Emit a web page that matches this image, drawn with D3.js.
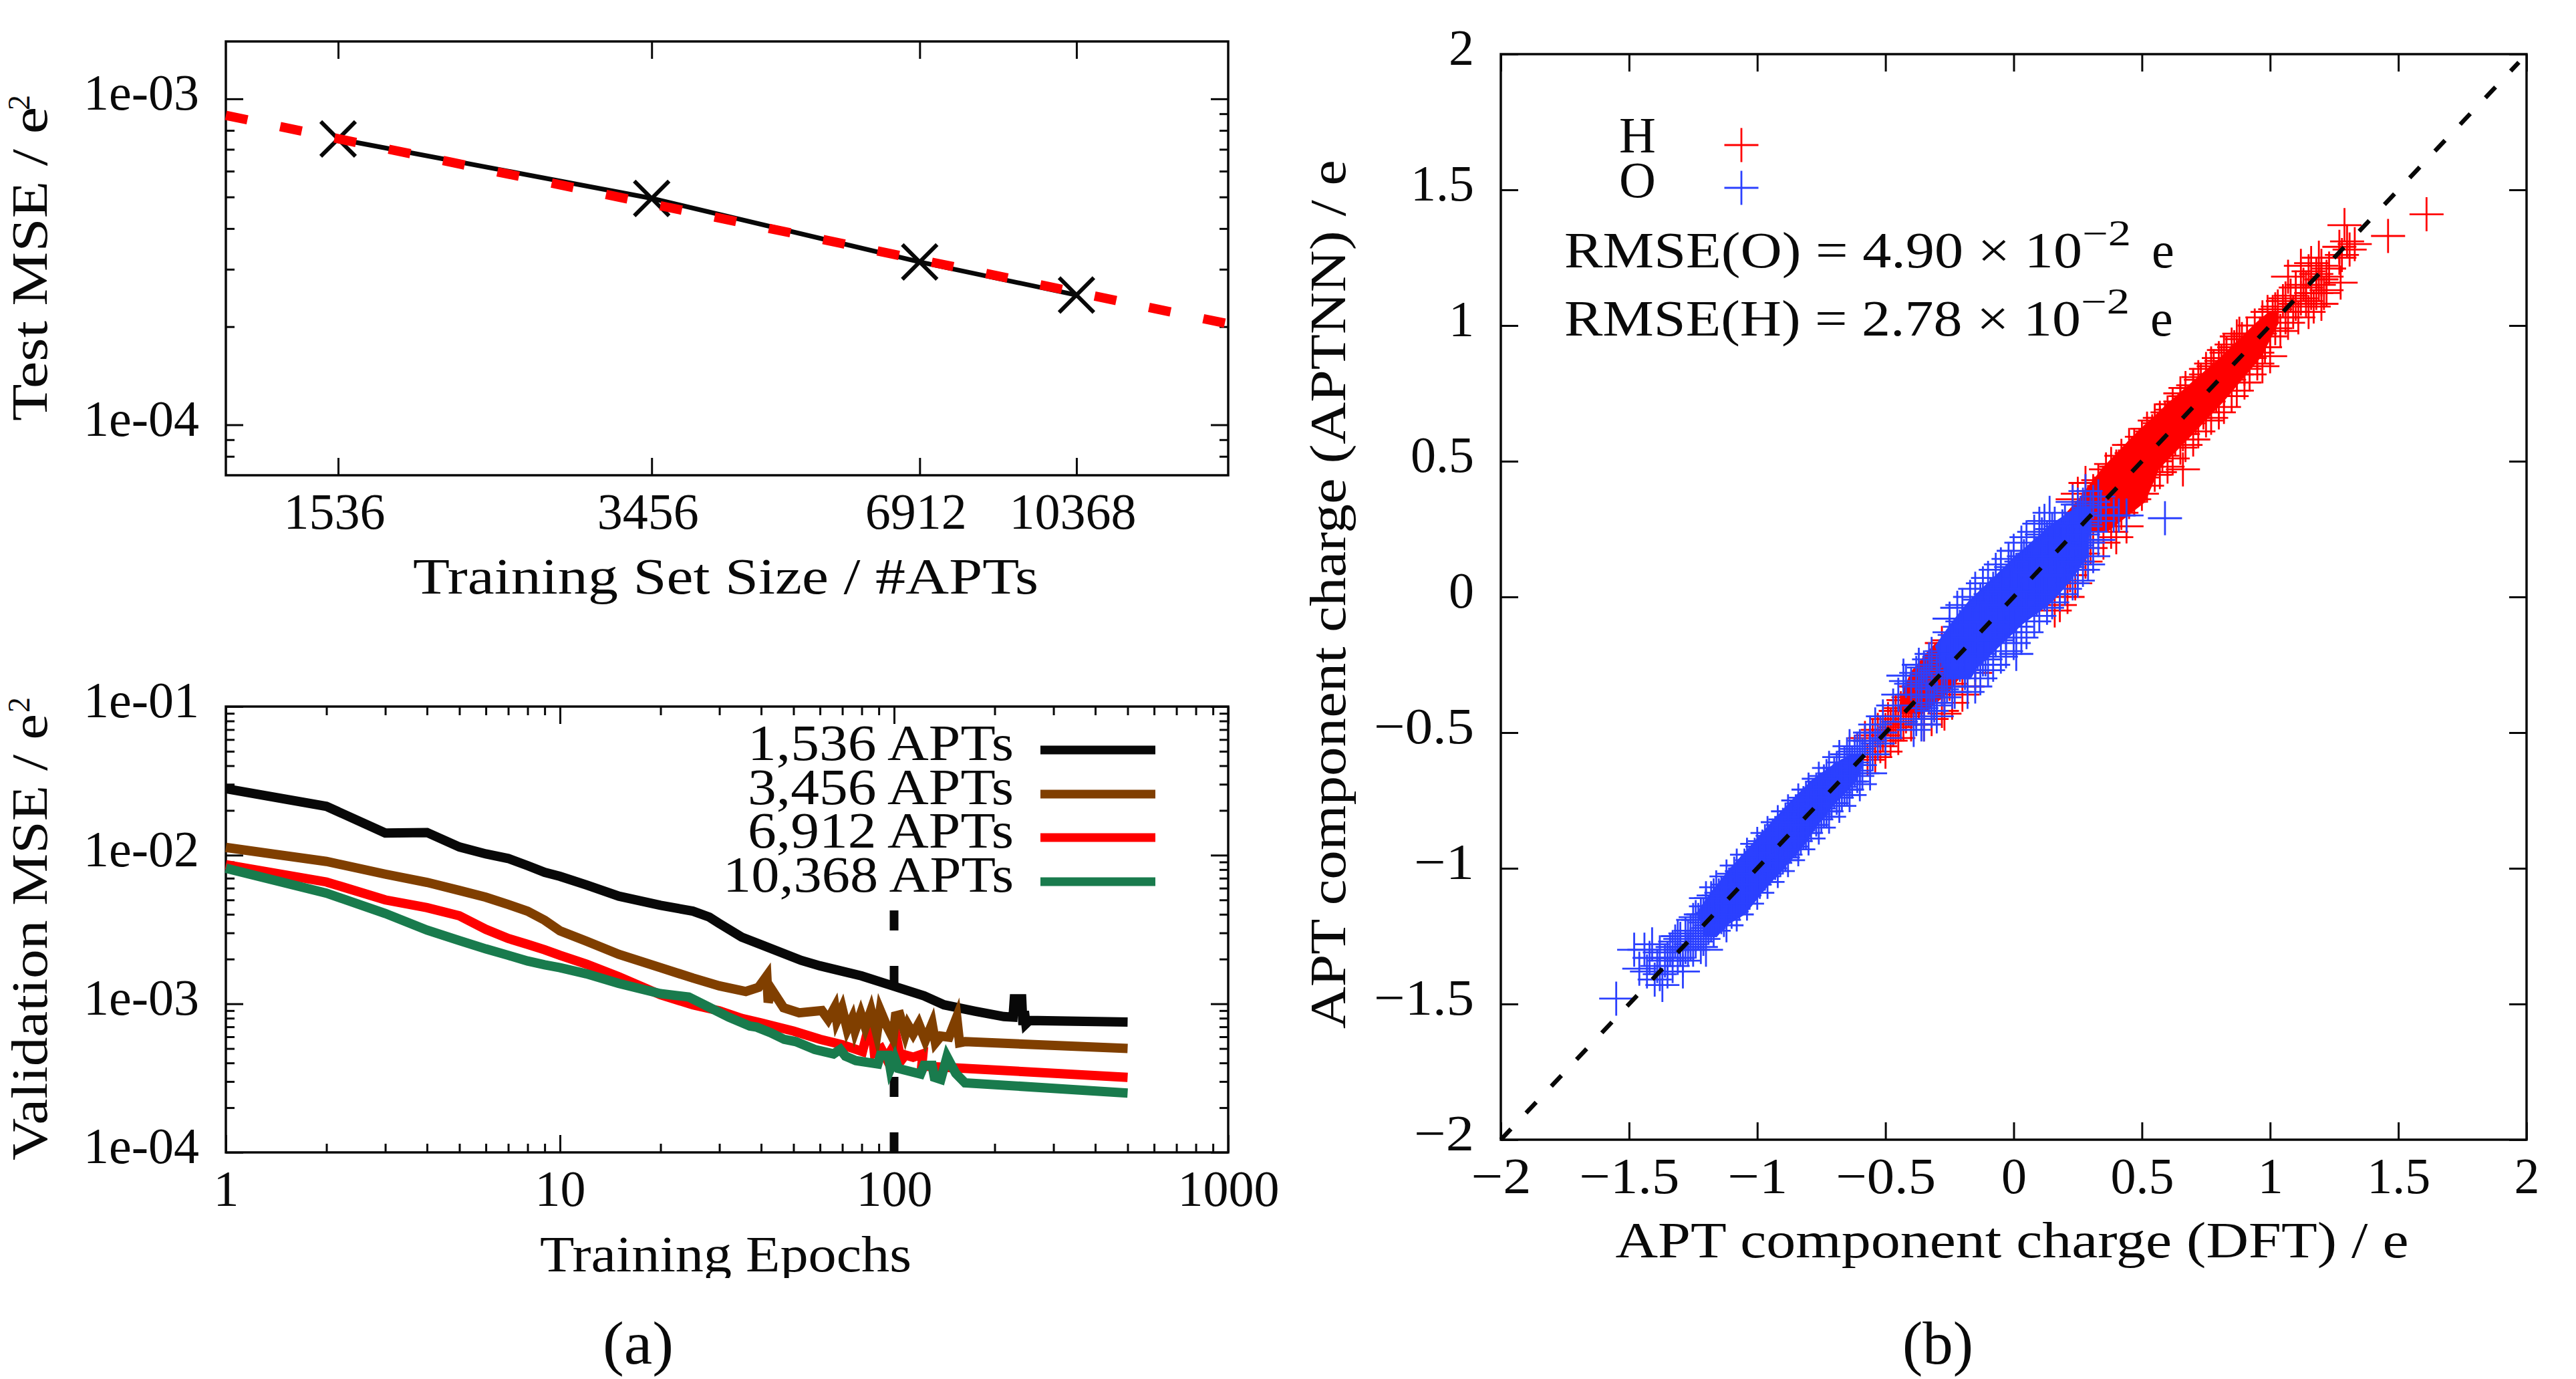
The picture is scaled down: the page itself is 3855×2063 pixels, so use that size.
<!DOCTYPE html>
<html><head><meta charset="utf-8">
<script src="https://cdn.jsdelivr.net/npm/d3@7/dist/d3.min.js"></script>
<style>html,body{margin:0;padding:0;background:#fff}svg{display:block}text{font-family:"Liberation Serif",serif;fill:#0a0a0a}</style>
</head><body><svg id="c" width="3855" height="2063"></svg>
<script>
// ---------- panel (a) top ----------
const sizeTicks=[1536,3456,6912,10368];
const testMse=[7.53e-4,4.95e-4,3.16e-4,2.5e-4];
const fitX=[1149,15350];
const fitY=[8.9e-4,2.04e-4];
const mseTop=[1e-3,1e-4];
const mseTopMinor=[8e-5,9e-5,2e-4,3e-4,4e-4,5e-4,6e-4,7e-4,8e-4,9e-4];
// ---------- panel (a) bottom ----------
const blackE=[1,2,3,4,5,6,7,8,9,10,12,15,20,25,28,30,35,40,52.7,60,80,97,123,141,175,213,227,229,241,243,245.5,248,254,500];
const blackV=[2.8e-2,2.13e-2,1.41e-2,1.42e-2,1.135e-2,1.02e-2,9.5e-3,8.5e-3,7.66e-3,7.2e-3,6.3e-3,5.3e-3,4.6e-3,4.2e-3,3.83e-3,3.47e-3,2.81e-3,2.5e-3,1.96e-3,1.8e-3,1.54e-3,1.34e-3,1.13e-3,9.84e-4,8.9e-4,8.2e-4,8.13e-4,1.08e-3,1.08e-3,7.2e-4,8.9e-4,7.33e-4,7.72e-4,7.53e-4];
const brownE=[1,2,3,4,5,6,7,8,9,10,12,15,20,25,30,36,39.3,41.6,42,43,46.7,52,60.8,63.5,66.5,67.4,69.9,72.4,75,76.4,79.5,82,85.3,88.8,90.9,94.8,99.3,101,104,108,110,114,118.5,124,130,133,138,146,154,157,163,500];
const brownV=[1.127e-2,9.07e-3,7.45e-3,6.56e-3,5.79e-3,5.21e-3,4.66e-3,4.2e-3,3.65e-3,3.1e-3,2.64e-3,2.15e-3,1.75e-3,1.49e-3,1.32e-3,1.21e-3,1.29e-3,1.54e-3,1.02e-3,1.25e-3,9.4e-4,8.7e-4,9e-4,7.85e-4,9.5e-4,7.72e-4,9.33e-4,6.73e-4,8e-4,6.6e-4,8.56e-4,6.96e-4,9.02e-4,6.27e-4,9.02e-4,7.2e-4,5.86e-4,8.28e-4,8.42e-4,6.27e-4,7.2e-4,6.27e-4,7.33e-4,5.66e-4,7.33e-4,5.47e-4,6.06e-4,5.96e-4,8.13e-4,5.47e-4,5.56e-4,5e-4];
const redE=[1,2,3,4,5,6,7,8,9,10,12,15,20,25,30,35,40,50,60,70,80.4,83.4,86,87.3,91.5,94.8,99.3,102,105,108,114,122,121,123,155,500];
const redV=[8.63e-3,6.6e-3,5e-3,4.43e-3,3.91e-3,3.17e-3,2.75e-3,2.51e-3,2.31e-3,2.12e-3,1.85e-3,1.52e-3,1.15e-3,9.83e-4,8.97e-4,7.96e-4,7.43e-4,6.55e-4,5.77e-4,5.3e-4,4.77e-4,6.6e-4,6.6e-4,4.68e-4,5e-4,4.29e-4,5.1e-4,5.7e-4,4.15e-4,4.52e-4,4.37e-4,4.6e-4,3.8e-4,3.8e-4,3.7e-4,3.2e-4];
const greenE=[1,2,3,4,5,6,7,8,9,10,12,15,20,24.3,27.9,32,37,38.8,42.7,46.9,50.8,57.9,65.9,69,71.5,76.8,89.4,91,96,97.5,100.5,103,120,123,130,132,138,144,150,153,163,500];
const greenV=[8.17e-3,5.55e-3,4.05e-3,3.13e-3,2.66e-3,2.34e-3,2.12e-3,1.94e-3,1.83e-3,1.75e-3,1.59e-3,1.37e-3,1.17e-3,1.11e-3,9.5e-4,8.13e-4,7.08e-4,6.96e-4,6.39e-4,5.76e-4,5.56e-4,4.93e-4,4.6e-4,4.93e-4,4.44e-4,4.15e-4,3.94e-4,4.5e-4,4.5e-4,3.65e-4,4.29e-4,3.67e-4,3.37e-4,3.85e-4,3.85e-4,3.2e-4,3.1e-4,4.4e-4,3.7e-4,3.4e-4,2.94e-4,2.51e-4];
const legendNames=["1,536 APTs","3,456 APTs","6,912 APTs","10,368 APTs"];
const epochTicks=[1,10,100,1000];
const epochMinor=[2,3,4,5,6,7,8,9,20,30,40,50,60,70,80,90,200,300,400,500,600,700,800,900];
const valTicks=[1e-1,1e-2,1e-3,1e-4];
const valMinor=[2e-4,3e-4,4e-4,5e-4,6e-4,7e-4,8e-4,9e-4,2e-3,3e-3,4e-3,5e-3,6e-3,7e-3,8e-3,9e-3,2e-2,3e-2,4e-2,5e-2,6e-2,7e-2,8e-2,9e-2];
const cutoffX=[100,100];
const cutoffY=[1e-4,4.3e-3];
// ---------- panel (b) ----------
const chargeTicks=[-2,-1.5,-1,-.5,0,.5,1,1.5,2];
const parityX=[-2,1.97];
const parityY=[-2,1.97];
const legendH=["H"],legendO=["O"];
// saturated core of each cloud, where the markers merge: y, x-left, x-right
const hCoreUp=[[.24,.22,.36],[.30,.20,.44],[.352,.25,.51],[.475,.35,.565],[.6,.478,.694],[.722,.616,.816],[.887,.816,.963],[1.01,.95,1.03],[1.05,1.0,1.03]];
const hCoreLow=[[-.43,-.44,-.36],[-.404,-.444,-.322],[-.345,-.426,-.252],[-.28,-.40,-.2],[-.2,-.33,-.1],[-.17,-.3,-.15]];
const oCoreUp=[[-.30,-.26,-.17],[-.263,-.27,-.148],[-.182,-.303,-.06],[-.1,-.243,.03],[-.017,-.173,.147],[.06,-.087,.218],[.148,.009,.285],[.27,.155,.296],[.33,.25,.30]];
const oCoreLow=[[-1.25,-1.21,-1.16],[-1.207,-1.21,-1.12],[-1.167,-1.235,-1.05],[-1.084,-1.174,-.98],[-1.002,-1.103,-.903],[-.92,-1.025,-.825],[-.837,-.947,-.765],[-.756,-.869,-.695],[-.675,-.783,-.617],[-.616,-.695,-.59],[-.58,-.63,-.59]];
// O component charges: x,y pairs
const oPts=[
-.40,-.32,-.39,-.49,-.38,-.36,-.37,-.25,-.36,-.41,-.35,-.47,-.34,-.29,-.33,-.23,-.32,-.34,-.31,-.39,-.30,-.30,-.29,-.23,
-.28,-.20,-.27,-.37,-.26,-.24,-.25,-.13,-.24,-.29,-.23,-.35,-.22,-.17,-.21,-.11,-.20,-.22,-.19,-.27,-.18,-.18,-.17,-.11,
-.16,-.08,-.15,-.25,-.14,-.12,-.13,-.01,-.12,-.17,-.11,-.23,-.10,-.05,-.09,.01,-.08,-.10,-.07,-.15,-.06,-.06,-.05,.01,
-.04,.04,-.03,-.13,-.02,0,-.01,.11,0,-.05,.01,-.11,.02,.07,.03,.13,.04,.02,.05,-.03,.06,.06,.07,.13,
.08,.16,.09,-.01,.10,.12,.11,.23,.12,.07,.13,.01,.14,.19,.15,.25,.16,.14,.17,.09,.18,.18,.19,.25,
.20,.28,.21,.11,.22,.24,.23,.35,.24,.19,.25,.13,.26,.31,.27,.34,.28,.26,.29,.21,.30,.30,
-.38,-.45,-.37,-.33,-.36,-.47,-.35,-.26,-.34,-.33,-.33,-.37,-.32,-.21,-.31,-.40,-.30,-.27,-.29,-.22,-.28,-.34,-.27,-.28,
-.26,-.33,-.25,-.21,-.24,-.35,-.23,-.14,-.22,-.21,-.21,-.25,-.20,-.09,-.19,-.28,-.18,-.15,-.17,-.10,-.16,-.22,-.15,-.16,
-.14,-.21,-.13,-.09,-.12,-.23,-.11,-.02,-.10,-.09,-.09,-.13,-.08,.03,-.07,-.16,-.06,-.03,-.05,.02,-.04,-.10,-.03,-.04,
-.02,-.09,-.01,.03,0,-.11,.01,.10,.02,.03,.03,-.01,.04,.15,.05,-.04,.06,.09,.07,.14,.08,.02,.09,.08,
.10,.03,.11,.15,.12,.01,.13,.22,.14,.15,.15,.11,.16,.27,.17,.08,.18,.21,.19,.26,.20,.14,.21,.20,
.22,.15,.23,.27,.24,.13,.25,.34,.26,.27,.27,.23,.28,.39,.29,.20,.30,.33,
.41,.30,.59,.29,.36,.30,.33,.28,.31,.35,.34,.33,.30,.24,.27,.18,.33,.37,-.45,-.36,-.42,-.31,-.44,-.46,-.47,-.40,-.43,-.29,
-.25,-.08,-.20,-.03,-.15,.03,-.10,.07,-.05,.12,0,.17,.05,.22,.10,.27,.14,.31,-.22,-.04,-.17,0,-.12,.05,-.07,.10,-.02,.14,.03,.20,.08,.24,.12,.28,
-.18,-.35,-.13,-.30,-.08,-.25,-.03,-.20,.01,-.21,.05,-.13,.10,-.07,.15,-.02,.20,.03,.25,.06,.29,.12,-.15,-.33,-.10,-.27,-.05,-.22,0,-.17,.03,-.15,.08,-.09,.13,-.04,.18,.01,.23,.05,.27,.10,.31,.15,.33,.21,.44,.30,.39,.30,
-.34,-.36,-.36,-.32,-.32,-.42,-.38,-.28,-.30,-.44,
-1.26,-1.23,-1.25,-1.30,-1.24,-1.18,-1.23,-1.24,-1.22,-1.29,-1.21,-1.17,-1.20,-1.20,-1.19,-1.22,-1.18,-1.11,-1.17,-1.23,-1.16,-1.14,-1.15,-1.10,-1.14,-1.18,-1.13,-1.12,-1.12,-1.14,-1.11,-1.06,-1.10,-1.16,-1.09,-1.06,-1.08,-1.12,-1.07,-1.08,-1.06,-1.01,-1.05,-1.10,-1.04,-1.00,-1.03,-1.09,-1.02,-1.05,-1.01,-.95,-1.00,-1.02,-.99,-1.05,-.98,-.92,-.97,-1.02,-.96,-.93,-.95,-1.00,-.94,-.96,-.93,-.87,-.92,-.94,-.91,-.97,-.90,-.84,-.89,-.95,-.88,-.86,-.87,-.92,-.86,-.88,-.85,-.79,-.84,-.86,-.83,-.89,-.82,-.76,-.81,-.87,-.80,-.78,-.79,-.84,-.78,-.80,-.77,-.71,-.76,-.78,-.75,-.81,-.74,-.68,-.73,-.79,-.72,-.70,-.71,-.76,-.70,-.72,-.69,-.63,-.68,-.70,-.67,-.73,-.66,-.61,-.65,-.71,-.64,-.62,-.63,-.68,-.62,-.64,-.61,-.56,-.60,-.62,-.59,-.65,-.58,-.53,
-1.30,-1.26,-1.29,-1.34,-1.28,-1.24,-1.27,-1.30,-1.26,-1.28,-1.25,-1.19,-1.24,-1.27,-1.23,-1.19,-1.22,-1.17,-1.21,-1.26,-1.20,-1.14,-1.19,-1.17,-1.18,-1.21,-1.17,-1.10,-1.16,-1.19,-1.15,-1.17,-1.14,-1.09,-1.13,-1.19,-1.12,-1.07,-1.11,-1.11,-1.10,-1.13,-1.09,-1.02,-1.08,-1.09,-1.07,-1.13,-1.06,-1.06,-1.05,-.99,-1.04,-1.08,-1.03,-1.02,-1.02,-.97,-1.01,-1.06,-1.00,-.96,-.99,-.98,-.98,-1.03,-.97,-.90,-.96,-1.00,-.95,-.94,-.94,-.88,-.93,-.98,-.92,-.88,-.91,-.90,-.90,-.96,-.89,-.82,-.88,-.91,-.87,-.85,-.86,-.81,-.85,-.90,-.84,-.79,-.83,-.82,-.82,-.87,-.81,-.74,-.80,-.84,-.79,-.77,-.78,-.73,-.77,-.82,-.76,-.71,-.75,-.74,-.74,-.79,-.73,-.66,-.72,-.76,-.71,-.70,-.70,-.65,-.69,-.74,-.68,-.63,-.67,-.66,-.66,-.71,-.65,-.58,-.64,-.68,-.63,-.61,-.62,-.57,-.61,-.66,-.60,-.55,-.59,-.58,
-.56,-.50,-.55,-.58,-.54,-.47,-.53,-.54,-.52,-.50,-.51,-.44,-.50,-.52,-.56,-.53,
-1.2,-1.11,-1.12,-1.03,-1.04,-.95,-.96,-.87,-.88,-.79,-.8,-.71,-.72,-.63,-.64,-.55,-1.16,-1.07,-1.08,-.99,-1.0,-.91,-.92,-.83,-.84,-.75,-.76,-.67,-.68,-.59,
-1.12,-1.21,-1.04,-1.13,-.96,-1.05,-.88,-.97,-.8,-.89,-.72,-.81,-.64,-.73,-.56,-.65,-1.08,-1.17,-1.0,-1.09,-.92,-1.01,-.84,-.93,-.76,-.85,-.68,-.77,-.6,-.69,-1.2,-1.3,
-1.55,-1.48,-1.48,-1.30,-1.46,-1.37,-1.44,-1.30,-1.43,-1.38,-1.42,-1.33,-1.41,-1.28,-1.40,-1.41,-1.39,-1.36,-1.38,-1.31,-1.37,-1.43,-1.36,-1.34,-1.35,-1.38,-1.34,-1.30,-1.33,-1.36,-1.32,-1.27,-1.31,-1.33,-1.30,-1.30,-1.29,-1.38,-1.28,-1.29,-1.27,-1.25,-1.35,-1.33,-1.33,-1.29,-1.31,-1.25,-1.38,-1.39
];
// H component charges: x,y pairs
const hPts=[
.30,.35,.31,.25,.32,.38,.33,.28,.34,.31,.35,.42,.36,.31,.37,.37,.38,.44,.39,.33,.40,.41,.41,.48,.42,.36,.43,.48,.44,.40,.45,.44,.46,.53,.47,.42,.48,.49,.49,.56,.50,.44,.51,.57,.52,.48,.53,.52,.54,.61,.55,.50,.56,.57,.57,.64,.58,.52,.59,.66,.60,.56,.61,.60,.62,.69,.63,.58,.64,.65,.65,.72,.66,.60,.67,.74,.68,.64,.69,.68,.70,.77,.71,.66,.72,.73,.73,.80,.74,.68,.75,.82,.76,.72,.77,.76,.78,.85,.79,.74,.80,.81,.81,.87,.82,.76,.83,.90,.84,.80,.85,.84,.86,.92,.87,.82,.88,.89,.89,.95,.90,.84,.91,.97,.92,.88,.93,.92,.94,1.0,.95,.90,.96,.97,.97,1.03,.98,.92,.99,1.05,1.0,.96,
.38,.49,.42,.52,.47,.56,.52,.62,.57,.66,.62,.71,.67,.77,.72,.81,.77,.86,.82,.91,.87,.96,.40,.48,.45,.56,.50,.59,.55,.65,.60,.68,.65,.75,.70,.78,.75,.84,.80,.88,.85,.93,.36,.47,.33,.43,
.42,.31,.47,.36,.52,.41,.57,.46,.62,.51,.67,.56,.72,.61,.77,.66,.82,.70,.87,.76,.92,.82,.45,.35,.50,.38,.55,.45,.60,.48,.65,.55,.70,.58,.75,.65,.80,.68,.85,.74,.90,.79,.95,.86,.40,.22,.44,.26,.38,.24,.35,.2,
1.01,1.05,1.02,.99,1.03,1.07,1.04,.98,1.05,1.09,1.06,1.03,1.07,1.01,1.08,1.11,1.09,1.05,1.10,1.14,1.11,1.03,1.12,1.10,1.13,1.15,1.14,1.09,1.15,1.20,1.16,1.12,1.17,1.07,1.18,1.19,1.19,1.15,1.20,1.22,1.21,1.12,1.22,1.18,1.18,1.12,1.14,1.14,1.10,1.08,1.06,1.10,1.02,1.06,1.20,1.17,1.23,1.21,1.19,1.25,1.16,1.23,1.22,1.13,1.27,1.29,1.30,1.31,1.33,1.30,1.29,1.37,1.28,1.26,1.31,1.28,1.27,1.25,1.46,1.33,1.61,1.41,.66,.47,
1.07,1.18,1.275,1.158,1.0,.887,.97,.85,.88,.97,1.12,1.22,1.15,1.05,1.2,1.08,
-.58,-.52,-.57,-.60,-.56,-.53,-.55,-.51,-.54,-.59,-.53,-.49,-.52,-.55,-.51,-.51,-.50,-.57,-.49,-.45,-.48,-.53,-.47,-.49,-.46,-.42,-.45,-.52,-.44,-.41,-.43,-.47,-.42,-.44,-.41,-.37,-.40,-.47,-.39,-.36,-.38,-.42,-.37,-.39,-.36,-.32,-.35,-.42,-.34,-.30,-.33,-.37,-.32,-.34,-.31,-.27,-.30,-.37,-.29,-.26,-.28,-.32,-.27,-.29,-.26,-.22,-.25,-.32,-.47,-.44,-.45,-.46,-.43,-.38,-.41,-.42,-.39,-.41,-.37,-.33,-.35,-.37,-.33,-.31,-.31,-.35,-.29,-.30,-.44,-.47,-.42,-.38,-.40,-.41,-.38,-.33,-.36,-.39,-.34,-.36,-.32,-.27,-.46,-.48,-.48,-.47,-.50,-.49,-.35,-.47,-.32,-.45,-.28,-.42,
.25,.10,.22,.08,.20,.05,.27,.16,.30,.18,.28,.13,.24,.05,.21,0,.18,-.03,.16,-.05,-.25,-.16,-.28,-.17,-.24,-.39,-.27,-.43,-.20,-.36,-.18,-.33,-.15,-.28,.23,.36,.25,.38,.28,.42,.26,.28,.29,.32,.31,.39,.29,.35
];
const pairs=f=>{const o=[];for(let i=0;i+1<f.length;i+=2)o.push([f[i],f[i+1]]);return o;};

const BLACK="#080808",RED="#ff0000",BROWN="#803f00",GREEN="#197b4d",BLUE="#2b40ff";
const svg=d3.select("#c");
svg.append("defs").append("clipPath").attr("id","cut").append("rect").attr("x",0).attr("y",1800).attr("width",1900).attr("height",112);

function label(x,y,str,o={}){
  const t=svg.append("text").attr("x",x).attr("y",y).text(str)
    .attr("font-size",o.size||76).attr("text-anchor",o.anchor||"start");
  if(o.len) t.attr("textLength",o.len).attr("lengthAdjust","spacingAndGlyphs");
  if(o.rot) t.attr("transform",`rotate(-90 ${x} ${y})`);
  return t;
}
function frame(x,y,opt){
  const [l,r]=x.range(),[b,t]=y.range();
  const ax=(gen,tx,ty)=>{const g=svg.append("g").attr("transform",`translate(${tx},${ty})`).call(gen);
    g.select(".domain").remove();g.selectAll(".tick line").attr("stroke",BLACK).attr("stroke-width",3);return g;};
  const blank=()=>"";
  const X=d3.axisBottom(x).tickValues(opt.xt).tickSize(-opt.major).tickPadding(26).tickFormat(opt.xf);
  const Y=d3.axisLeft(y).tickValues(opt.yt).tickSize(-opt.major).tickPadding(40).tickFormat(opt.yf);
  const gx=ax(X,0,b),gy=ax(Y,l,0);
  ax(d3.axisTop(x).tickValues(opt.xt).tickSize(-opt.major).tickFormat(blank),0,t);
  ax(d3.axisRight(y).tickValues(opt.yt).tickSize(-opt.major).tickFormat(blank),r,0);
  if(opt.xm){ax(d3.axisBottom(x).tickValues(opt.xm).tickSize(-opt.minor).tickFormat(blank),0,b);
    ax(d3.axisTop(x).tickValues(opt.xm).tickSize(-opt.minor).tickFormat(blank),0,t);}
  if(opt.ym){ax(d3.axisLeft(y).tickValues(opt.ym).tickSize(-opt.minor).tickFormat(blank),l,0);
    ax(d3.axisRight(y).tickValues(opt.ym).tickSize(-opt.minor).tickFormat(blank),r,0);}
  [gx,gy].forEach(g=>g.selectAll("text").attr("font-size",76).attr("font-family",'"Liberation Serif",serif').attr("fill","#0a0a0a"));
  gy.selectAll("text").attr("dy",".21em");
  svg.append("rect").attr("x",l).attr("y",t).attr("width",r-l).attr("height",b-t)
    .attr("fill","none").attr("stroke",BLACK).attr("stroke-width",3.5);
  return {gx,gy};
}
const sci=d=>{const e=Math.round(Math.log10(d));return "1e-"+String(-e).padStart(2,"0");};

// ---- top left
const x1=d3.scaleLog().domain(fitX).range([338,1838]);
const y1=d3.scaleLog().domain([7e-5,1.5e-3]).range([711,62]);
const f1=frame(x1,y1,{xt:sizeTicks,xf:d3.format("d"),yt:mseTop,yf:sci,ym:mseTopMinor,major:26,minor:13});
f1.gx.selectAll("text").attr("dx",-6);
const line1=d3.line().x(d=>x1(d[0])).y(d=>y1(d[1]));
svg.append("path").datum(sizeTicks.map((s,i)=>[s,testMse[i]])).attr("d",line1)
  .attr("fill","none").attr("stroke",BLACK).attr("stroke-width",7);
svg.append("g").selectAll("path").data(sizeTicks).join("path")
  .attr("transform",(d,i)=>`translate(${x1(d)},${y1(testMse[i])})`)
  .attr("d","M-26,-26L26,26M-26,26L26,-26").attr("fill","none").attr("stroke",BLACK).attr("stroke-width",6);
svg.append("path").datum(fitX.map((s,i)=>[s,fitY[i]])).attr("d",line1)
  .attr("fill","none").attr("stroke",RED).attr("stroke-width",14).attr("stroke-dasharray","33 50");
label(1086,888,"Training Set Size / #APTs",{anchor:"middle",len:936});
label(70,630,"Test MSE / e",{rot:1,len:470});
label(44,165,"2",{rot:1,size:46});

// ---- bottom left
const x2=d3.scaleLog().domain([1,1000]).range([338,1838]);
const y2=d3.scaleLog().domain([1e-4,1e-1]).range([1724,1057]);
frame(x2,y2,{xt:epochTicks,xf:d3.format("d"),xm:epochMinor,yt:valTicks,yf:sci,ym:valMinor,major:26,minor:13});
const line2=d3.line().x(d=>x2(d[0])).y(d=>y2(d[1]));
svg.append("path").datum(cutoffX.map((s,i)=>[s,cutoffY[i]])).attr("d",line2)
  .attr("fill","none").attr("stroke",BLACK).attr("stroke-width",13).attr("stroke-dasharray","30 53");
[[blackE,blackV,BLACK],[redE,redV,RED],[brownE,brownV,BROWN],[greenE,greenV,GREEN]].forEach(([e,v,c])=>{
  svg.append("path").datum(e.map((s,i)=>[s,v[i]])).attr("d",line2).attr("fill","none")
    .attr("stroke",c).attr("stroke-width",14).attr("stroke-linejoin","miter").attr("stroke-miterlimit",6);
});
[BLACK,BROWN,RED,GREEN].forEach((c,i)=>{
  const ys=[1122,1188,1253,1319][i];
  svg.append("line").attr("x1",1557).attr("x2",1729).attr("y1",ys).attr("y2",ys).attr("stroke",c).attr("stroke-width",13);
  label(1517,ys+15,legendNames[i],{anchor:"end",len:i==3?435:398});
});
label(1086,1902,"Training Epochs",{anchor:"middle",len:556}).attr("clip-path","url(#cut)");
label(70,1736,"Validation MSE / e",{rot:1,len:668});
label(44,1066,"2",{rot:1,size:46});
label(955,2040,"(a)",{anchor:"middle",size:92,len:106});

// ---- right
const x3=d3.scaleLinear().domain([-2,2]).range([2246,3781]);
const y3=d3.scaleLinear().domain([-2,2]).range([1705,81]);
const fmt=d=>String(d).replace("-","\u2212").replace(/^(\u2212?)\./,"$10.");
const f3=frame(x3,y3,{xt:chargeTicks,xf:fmt,yt:chargeTicks,yf:fmt,major:26});
[f3.gx,f3.gy].forEach(g=>g.selectAll("text").each(function(){
  const s=d3.select(this).text();
  if(s[0]==="\u2212") d3.select(this).attr("textLength",s.length>2?150:90).attr("lengthAdjust","spacingAndGlyphs");
}));
const PLUS="M-25.5,0H25.5M0,-25.5V25.5";
const core=d3.area().y(d=>y3(d[0])).x0(d=>x3(d[1])).x1(d=>x3(d[2]));
[[[hCoreUp,hCoreLow],hPts,RED],[[oCoreUp,oCoreLow],oPts,BLUE]].forEach(([cores,p,c])=>{
  cores.forEach(b=>svg.append("path").datum(b).attr("d",core).attr("fill",c).attr("stroke",c).attr("stroke-width",3));
  svg.append("g").selectAll("path").data(pairs(p)).join("path")
    .attr("transform",d=>`translate(${x3(d[0])},${y3(d[1])})`)
    .attr("d",PLUS).attr("fill","none").attr("stroke",c).attr("stroke-width",2.8);
});
svg.append("path").datum(parityX.map((s,i)=>[s,parityY[i]]))
  .attr("d",d3.line().x(d=>x3(d[0])).y(d=>y3(d[1]))).attr("fill","none")
  .attr("stroke",BLACK).attr("stroke-width",6.5).attr("stroke-dasharray","22 33");
label(2478,228,legendH[0],{anchor:"end"});
label(2478,295,legendO[0],{anchor:"end"});
[[217,RED],[281,BLUE]].forEach(([y,c])=>svg.append("path").attr("transform",`translate(2606,${y})`)
  .attr("d",PLUS).attr("fill","none").attr("stroke",c).attr("stroke-width",2.8));
label(2341,400,"RMSE(O) = 4.90 \u00d7 10",{len:775});
label(3116,367,"\u22122",{size:54,len:73});
label(3220,400,"e");
label(2341,502,"RMSE(H) = 2.78 \u00d7 10",{len:773});
label(3114,469,"\u22122",{size:54,len:73});
label(3218,502,"e");
label(3011,1881,"APT component charge (DFT) / e",{anchor:"middle",len:1187});
label(2013,1539,"APT component charge (APTNN) / e",{rot:1,len:1300});
label(2900,2040,"(b)",{anchor:"middle",size:92,len:106});
</script></body></html>
